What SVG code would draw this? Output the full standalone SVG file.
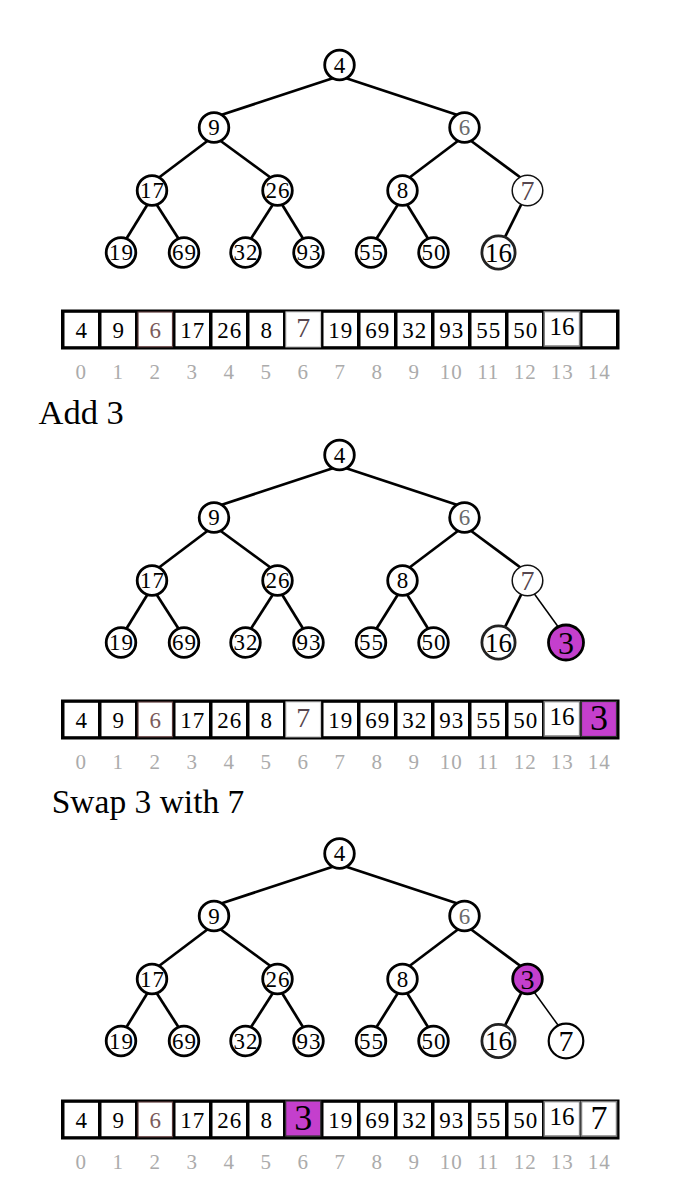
<svg xmlns="http://www.w3.org/2000/svg" width="679" height="1200" viewBox="0 0 679 1200">
  <style>
    .bg { fill: #fff; }
    .e { stroke: #000; stroke-width: 2.7; stroke-linecap: butt; fill: none; }
    .e.thin { stroke-width: 1.5; }
    .n { fill: #fff; stroke: #000; stroke-width: 2.8; }
    .n.light { stroke-width: 1.5; stroke: #111; }
    .n.big { stroke: #222; }
    .n.hot { fill: #c43fcd; }
    .t { font-family: "Liberation Serif", "Times New Roman", serif; font-size: 23px; text-anchor: middle; fill: #000; }
    .t2 { letter-spacing: 1px; }
    .grey { fill: #6a6a6a; }
    .plum { fill: #57474f; }
    .rust { fill: #7a5a5a; }
    .idx { font-family: "Liberation Serif", "Times New Roman", serif; font-size: 21px; text-anchor: middle; fill: #ababab; letter-spacing: 1px; }
    .frame { fill: #000; }
    .cell { fill: #fff; }
    .c-rust { fill: #fff; stroke: #5c3a3a; stroke-width: 1.2; }
    .c-pale { fill: #fff; stroke: #cfcfcf; stroke-width: 1.2; }
    .c-grey { fill: #fff; stroke: #808080; stroke-width: 1.5; }
    .c-hot { fill: #c43fcd; stroke: #333; stroke-width: 1.2; }
    .cap { font-family: "Liberation Serif", "Times New Roman", serif; fill: #000; }
  </style>

  <rect class="bg" x="0" y="0" width="679" height="1200"/>

  <defs>
    <!-- plain white array cells and index row, shared by all three arrays -->
    <g id="cells">
      <rect class="frame" x="61" y="309.5" width="558.5" height="40"/>
      <rect class="cell" x="64.5" y="312.8" width="33.5" height="33.4"/>
      <rect class="cell" x="101.5" y="312.8" width="33.5" height="33.4"/>
      <rect class="cell" x="138.5" y="312.8" width="33.5" height="33.4"/>
      <rect class="cell" x="175.5" y="312.8" width="33.5" height="33.4"/>
      <rect class="cell" x="212.5" y="312.8" width="33.5" height="33.4"/>
      <rect class="cell" x="249.5" y="312.8" width="33.5" height="33.4"/>
      <rect class="cell" x="286.5" y="312.8" width="33.5" height="33.4"/>
      <rect class="cell" x="323.5" y="312.8" width="33.5" height="33.4"/>
      <rect class="cell" x="360.5" y="312.8" width="33.5" height="33.4"/>
      <rect class="cell" x="397.5" y="312.8" width="33.5" height="33.4"/>
      <rect class="cell" x="434.5" y="312.8" width="33.5" height="33.4"/>
      <rect class="cell" x="471.5" y="312.8" width="33.5" height="33.4"/>
      <rect class="cell" x="508.5" y="312.8" width="33.5" height="33.4"/>
      <rect class="cell" x="545.5" y="312.8" width="33.5" height="33.4"/>
      <rect class="cell" x="582.5" y="312.8" width="33.5" height="33.4"/>
      <rect class="c-rust" x="138" y="312" width="34.5" height="34.8"/>
      <rect class="c-grey" x="544.2" y="311.6" width="35.4" height="34.4"/>
      <g class="idx">
        <text x="81.25" y="379">0</text>
        <text x="118.25" y="379">1</text>
        <text x="155.25" y="379">2</text>
        <text x="192.25" y="379">3</text>
        <text x="229.25" y="379">4</text>
        <text x="266.25" y="379">5</text>
        <text x="303.25" y="379">6</text>
        <text x="340.25" y="379">7</text>
        <text x="377.25" y="379">8</text>
        <text x="414.25" y="379">9</text>
        <text x="451.25" y="379">10</text>
        <text x="488.25" y="379">11</text>
        <text x="525.25" y="379">12</text>
        <text x="562.25" y="379">13</text>
        <text x="599.25" y="379">14</text>
      </g>
      <g class="t t2">
        <text x="81.75" y="337.5">4</text>
        <text x="118.75" y="337.5">9</text>
        <text class="rust" x="155.75" y="337.5">6</text>
        <text x="192.75" y="337.5">17</text>
        <text x="229.75" y="337.5">26</text>
        <text x="266.75" y="337.5">8</text>
        <text x="340.75" y="337.5">19</text>
        <text x="377.75" y="337.5">69</text>
        <text x="414.75" y="337.5">32</text>
        <text x="451.75" y="337.5">93</text>
        <text x="488.75" y="337.5">55</text>
        <text x="525.75" y="337.5">50</text>
      </g>
      <text class="t" x="562" y="335" style="font-size:25px">16</text>
    </g>

    <!-- tree edges common to every step: parent's underside to child's top -->
    <g id="edges">
      <line class="e" x1="336.5" y1="77" x2="218" y2="116"/>
      <line class="e" x1="342.5" y1="77" x2="460.5" y2="116"/>
      <line class="e" x1="210" y1="139" x2="157" y2="179"/>
      <line class="e" x1="218" y1="139" x2="272.5" y2="179"/>
      <line class="e" x1="460.5" y1="139" x2="407.5" y2="179"/>
      <line class="e" x1="468.5" y1="139" x2="522.5" y2="179"/>
      <line class="e" x1="149" y1="202" x2="125" y2="241"/>
      <line class="e" x1="155" y1="202" x2="180" y2="241"/>
      <line class="e" x1="274.5" y1="202" x2="249.5" y2="241"/>
      <line class="e" x1="280.5" y1="202" x2="304.5" y2="241"/>
      <line class="e" x1="399.5" y1="202" x2="375" y2="241"/>
      <line class="e" x1="405.5" y1="202" x2="429.5" y2="241"/>
      <line class="e" x1="522.5" y1="202" x2="503.5" y2="240"/>
    </g>

    <!-- tree nodes that never change -->
    <g id="fixed">
      <g id="n4"><circle class="n" cx="339.5" cy="65" r="14.8"/><text class="t" x="339.5" y="72.8">4</text></g>
      <g id="n9"><circle class="n" cx="214" cy="127.5" r="14.8"/><text class="t" x="214" y="135.3">9</text></g>
      <g id="n6"><circle class="n" cx="464.5" cy="127.5" r="14.8"/><text class="t grey" x="464.5" y="135.3">6</text></g>
      <g id="n17"><circle class="n" cx="152" cy="190.5" r="14.8"/><text class="t t2" x="152.5" y="198.3">17</text></g>
      <g id="n26"><circle class="n" cx="277.5" cy="190.5" r="14.8"/><text class="t t2" x="278" y="198.3">26</text></g>
      <g id="n8"><circle class="n" cx="402.5" cy="190.5" r="14.8"/><text class="t" x="402.5" y="198.3">8</text></g>
      <g id="n19"><circle class="n" cx="121" cy="252.5" r="14.8"/><text class="t t2" x="121.5" y="260.3">19</text></g>
      <g id="n69"><circle class="n" cx="184" cy="252.5" r="14.8"/><text class="t t2" x="184.5" y="260.3">69</text></g>
      <g id="n32"><circle class="n" cx="245.5" cy="252.5" r="14.8"/><text class="t t2" x="246" y="260.3">32</text></g>
      <g id="n93"><circle class="n" cx="308.5" cy="252.5" r="14.8"/><text class="t t2" x="309" y="260.3">93</text></g>
      <g id="n55"><circle class="n" cx="371" cy="252.5" r="14.8"/><text class="t t2" x="371.5" y="260.3">55</text></g>
      <g id="n50"><circle class="n" cx="433.5" cy="252.5" r="14.8"/><text class="t t2" x="434" y="260.3">50</text></g>
      <g id="n16"><circle class="n big" cx="498.5" cy="252.5" r="16.6"/><text class="t" x="498.5" y="261.8" style="font-size:27px">16</text></g>
    </g>
  </defs>

  <!-- step 1: initial heap -->
  <g id="step1">
    <g id="step1-connectors"><use href="#edges"/></g>
    <g id="step1-nodes">
      <use href="#fixed"/>
      <g id="s1-n7"><circle class="n light" cx="527.5" cy="190.5" r="15.3"/><text class="t plum" x="527.5" y="200" style="font-size:28px">7</text></g>
    </g>
    <g id="step1-array">
      <use href="#cells"/>
      <rect class="c-pale" x="286" y="312" width="34.5" height="34.8"/>
      <text class="t plum" x="303.25" y="337" style="font-size:28px">7</text>
    </g>
  </g>

  <!-- step 2: add 3 at the end -->
  <text class="cap" x="38.5" y="424.3" style="font-size:34.5px">Add 3</text>
  <g id="step2" transform="translate(0,390)">
    <g id="step2-connectors">
      <use href="#edges"/>
      <line class="e thin" x1="533" y1="202" x2="559" y2="238"/>
    </g>
    <g id="step2-nodes">
      <use href="#fixed"/>
      <g id="s2-n7"><circle class="n light" cx="527.5" cy="190.5" r="15.3"/><text class="t plum" x="527.5" y="200" style="font-size:28px">7</text></g>
      <g id="s2-n3"><circle class="n hot" cx="566" cy="252.5" r="17.5"/><text class="t" x="566" y="263.5" style="font-size:32px">3</text></g>
    </g>
    <g id="step2-array">
      <use href="#cells"/>
      <rect class="c-pale" x="286" y="312" width="34.5" height="34.8"/>
      <text class="t plum" x="303.25" y="337" style="font-size:28px">7</text>
      <rect class="c-hot" x="581.5" y="311.5" width="35" height="35"/>
      <text class="t" x="599" y="339.5" style="font-size:36px">3</text>
    </g>
  </g>

  <!-- step 3: 3 swaps with its parent 7 -->
  <text class="cap" x="51.7" y="813.3" style="font-size:33.5px">Swap 3 with 7</text>
  <g id="step3" transform="translate(0,788.5)">
    <g id="step3-connectors">
      <use href="#edges"/>
      <line class="e thin" x1="533" y1="202" x2="559" y2="238"/>
    </g>
    <g id="step3-nodes">
      <use href="#fixed"/>
      <g id="s3-n3"><circle class="n hot" cx="527.5" cy="190.5" r="14.8"/><text class="t" x="527.5" y="200.3" style="font-size:28px">3</text></g>
      <g id="s3-n7"><circle class="n" style="stroke-width:2.2" cx="566" cy="252.5" r="17.3"/><text class="t" x="566" y="262.8" style="font-size:30px">7</text></g>
    </g>
  </g>
  <g id="step3-array" transform="translate(0,790)">
    <use href="#cells"/>
    <rect class="c-hot" x="285.7" y="311" width="35" height="35"/>
    <text class="t" x="303.25" y="339.5" style="font-size:36px">3</text>
    <rect class="c-grey" x="581.5" y="311.6" width="35" height="34.4"/>
    <text class="t" x="599" y="339" style="font-size:34px">7</text>
  </g>
</svg>
